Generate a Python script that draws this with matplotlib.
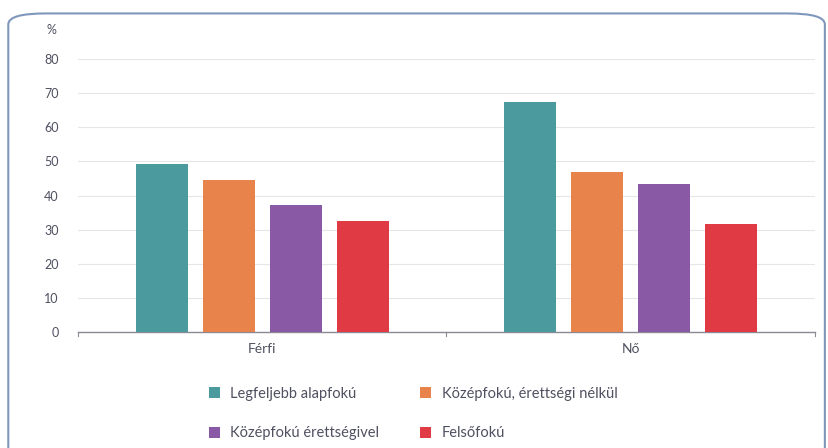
import numpy as np
import matplotlib.pyplot as plt
from matplotlib.patches import FancyBboxPatch, Patch

categories = ["Férfi", "Nő"]
series = ["Legfeljebb alapfokú", "Középfokú, érettségi nélkül",
          "Középfokú érettségivel", "Felsőfokú"]
values = [
    [49.3, 67.4],   # Legfeljebb alapfokú
    [44.6, 46.8],   # Középfokú, érettségi nélkül
    [37.2, 43.4],   # Középfokú érettségivel
    [32.6, 31.7],   # Felsőfokú
]
colors = ["#4b9a9d", "#e8834b", "#8a59a6", "#e03b45"]
yticks = [0, 10, 20, 30, 40, 50, 60, 70, 80]

plt.rcParams["font.family"] = ["Lato", "DejaVu Sans"]
txt = "#4f5060"

fig = plt.figure(figsize=(8.29, 4.48), dpi=100)
ax = fig.add_axes([0.094, 0.259, 0.889, 0.609])

x = np.arange(len(categories))
w = 0.141
step = 0.182
for i, (s, v, c) in enumerate(zip(series, values, colors)):
    ax.bar(x + (i - 1.5) * step, v, width=w, color=c, label=s, zorder=3)

ax.set_xlim(-0.5, 1.5)
ax.set_ylim(0, 80)
ax.set_yticks(yticks)
ax.set_yticklabels([str(t) for t in yticks], color=txt, fontsize=9)
ax.tick_params(axis="y", length=0, pad=14)
ax.set_xticks(x)
ax.set_xticklabels(categories, color=txt, fontsize=10)
ax.tick_params(axis="x", length=0, pad=8)
for xt in [-0.5, 0.5, 1.5]:
    ax.plot([xt, xt], [0, -1.2], color="#8a8a95", lw=0.8, clip_on=False, zorder=4)
ax.grid(axis="y", color="#e6e6ea", lw=0.8, zorder=0)
for sp in ["top", "right", "left"]:
    ax.spines[sp].set_visible(False)
ax.spines["bottom"].set_color("#8a8a95")
ax.spines["bottom"].set_linewidth(1.0)

fig.text(0.062, 0.933, "%", color=txt, fontsize=9, ha="center", va="center")

# legend is filled column-wise, so order handles to read row-wise
order = [0, 2, 1, 3]
handles = [Patch(facecolor=colors[k], label=series[k]) for k in order]
fig.legend(handles=handles, ncol=2, loc="center left",
           bbox_to_anchor=(0.236, 0.077), frameon=False, fontsize=10.5,
           labelcolor=txt, handlelength=0.75, handleheight=0.75,
           handletextpad=0.7, columnspacing=2.85, labelspacing=1.75)

frame = FancyBboxPatch((0.010, -0.2), 0.985, 1.17,
                       boxstyle="round,pad=0,rounding_size=0.045",
                       transform=fig.transFigure, fill=False,
                       ec="#7f97bb", lw=1.5, mutation_aspect=448 / 829)
fig.patches.append(frame)

fig.savefig("out.png", dpi=100)
